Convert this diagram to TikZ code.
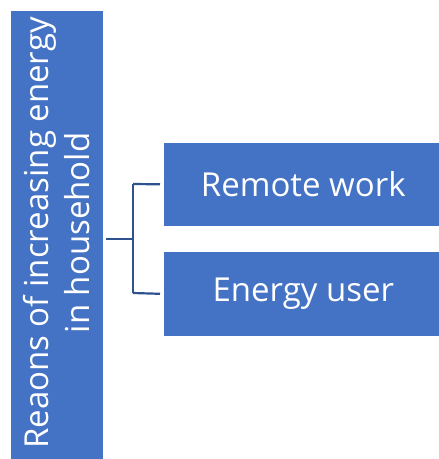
\documentclass[tikz,border=0pt]{standalone}
\usepackage{fontspec}
\setmainfont{Open Sans}
\definecolor{boxblue}{HTML}{4472C4}
\definecolor{linkblue}{HTML}{2F528F}
\begin{document}
\begin{tikzpicture}[x=1pt,y=-1pt,
  box/.style={fill=boxblue,draw=white,line width=0.6pt,text=white,inner sep=0pt,font=\fontsize{33}{41}\selectfont},
  link/.style={draw=linkblue,line width=2.2pt}]
\useasboundingbox (0,0) rectangle (439,459);
\node[box,minimum width=93,minimum height=449,anchor=north west] (main) at (9.5,10) {};
\node[rotate=90,text=white,align=center,font=\fontsize{33}{41}\selectfont] (maintext) at (57,233) {Reaons of increasing energy\\in household};
\node[box,minimum width=277,minimum height=84,anchor=north west] (b1) at (163,142) {\hspace*{3pt}Remote work};
\node[box,minimum width=277,minimum height=85,anchor=north west] (b2) at (163,251) {\hspace*{3pt}Energy user};
\coordinate (stem) at (133,239);
\coordinate (j1) at (133,184);
\coordinate (j2) at (133,293);
\draw[link] ([xshift=3pt]main.east |- stem) -- (stem);
\draw[link] (j1) -- (j2);
\draw[link] (j1) -- ([xshift=-3pt]b1.west);
\draw[link] (j2) -- ([xshift=-3pt]b2.west);
\end{tikzpicture}
\end{document}
